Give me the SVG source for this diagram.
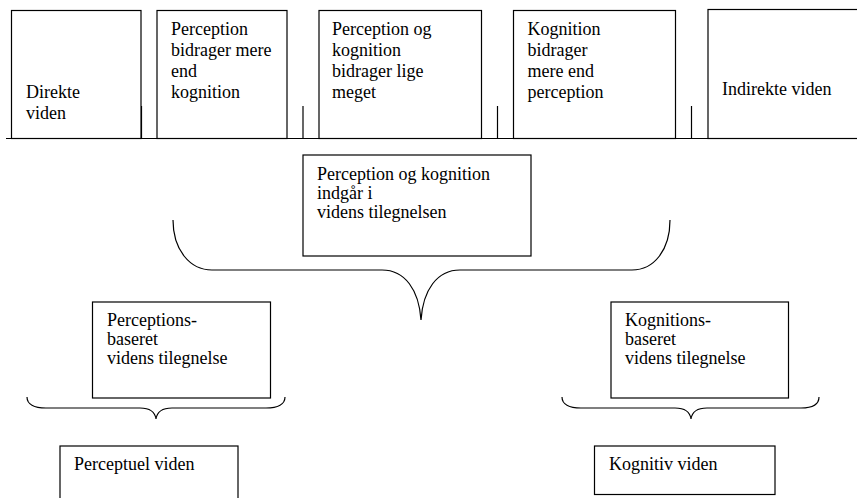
<svg xmlns="http://www.w3.org/2000/svg" width="857" height="498" viewBox="0 0 857 498">
<style>
.box{fill:#fff;stroke:#000;stroke-width:1.2}
.ln{fill:none;stroke:#000;stroke-width:1.2}
text{font-family:"Liberation Serif","Times New Roman",serif;font-size:18px;fill:#000}
</style>
<rect width="857" height="498" fill="#fff"/>
<g id="connectors">
<line class="ln" x1="6" y1="138.5" x2="857" y2="138.5"/>
<line class="ln" x1="141.5" y1="106" x2="141.5" y2="138.5"/>
<line class="ln" x1="303" y1="106" x2="303" y2="138.5"/>
<line class="ln" x1="497.5" y1="106" x2="497.5" y2="138.5"/>
<line class="ln" x1="691.5" y1="106" x2="691.5" y2="138.5"/>
<path class="ln" d="M173,220 C173,250 190,270 212,270 L382,270 C405,270 419,290 421,320 C423,290 437,270 460,270 L632,270 C654,270 670,250 670,220"/>
<path class="ln" d="M27,397 C27,404 34,408 46,408 L140,408 C150,408 155,412 156,419 C157,412 162,408 172,408 L266,408 C278,408 285,404 285,397"/>
<path class="ln" d="M562,397 C562,404 569,408 581,408 L675,408 C685,408 690,412 691,419 C692,412 697,408 707,408 L801,408 C813,408 819,404 819,397"/>
</g>
<g id="direkte">
<rect class="box" x="11.5" y="10.5" width="129.5" height="128"/>
<text x="26" y="98">Direkte</text>
<text x="26" y="118.5">viden</text>
</g>
<g id="perception-mere">
<rect class="box" x="157" y="10.5" width="130" height="128"/>
<text x="171" y="34.5">Perception</text>
<text x="171" y="55.5">bidrager mere</text>
<text x="171" y="76.5">end</text>
<text x="171" y="97.5">kognition</text>
</g>
<g id="lige">
<rect class="box" x="319" y="10.5" width="162.5" height="128"/>
<text x="332" y="34.5">Perception og</text>
<text x="332" y="55.5">kognition</text>
<text x="332" y="76.5">bidrager lige</text>
<text x="332" y="97.5">meget</text>
</g>
<g id="kognition-mere">
<rect class="box" x="513.5" y="10.5" width="162" height="128"/>
<text x="527.5" y="34.5">Kognition</text>
<text x="527.5" y="55.5">bidrager</text>
<text x="527.5" y="76.5">mere end</text>
<text x="527.5" y="97.5">perception</text>
</g>
<g id="indirekte">
<rect class="box" x="708" y="9.5" width="160" height="129"/>
<text x="722" y="95">Indirekte viden</text>
</g>
<g id="indgaar">
<rect class="box" x="303" y="155" width="228" height="101"/>
<text x="317" y="180">Perception og kognition</text>
<text x="317" y="199">indgår i</text>
<text x="317" y="218">videns tilegnelsen</text>
</g>
<g id="perceptionsbaseret">
<rect class="box" x="92.5" y="302" width="178" height="96"/>
<text x="107" y="325.5">Perceptions-</text>
<text x="107" y="344.5">baseret</text>
<text x="107" y="363.5">videns tilegnelse</text>
</g>
<g id="kognitionsbaseret">
<rect class="box" x="611" y="302" width="177.5" height="96"/>
<text x="625" y="325.5">Kognitions-</text>
<text x="625" y="344.5">baseret</text>
<text x="625" y="363.5">videns tilegnelse</text>
</g>
<g id="perceptuel">
<rect class="box" x="60" y="446" width="178" height="70"/>
<text x="74" y="470">Perceptuel viden</text>
</g>
<g id="kognitiv">
<rect class="box" x="594.5" y="446" width="180.5" height="48.5"/>
<text x="609" y="470">Kognitiv viden</text>
</g>
</svg>
